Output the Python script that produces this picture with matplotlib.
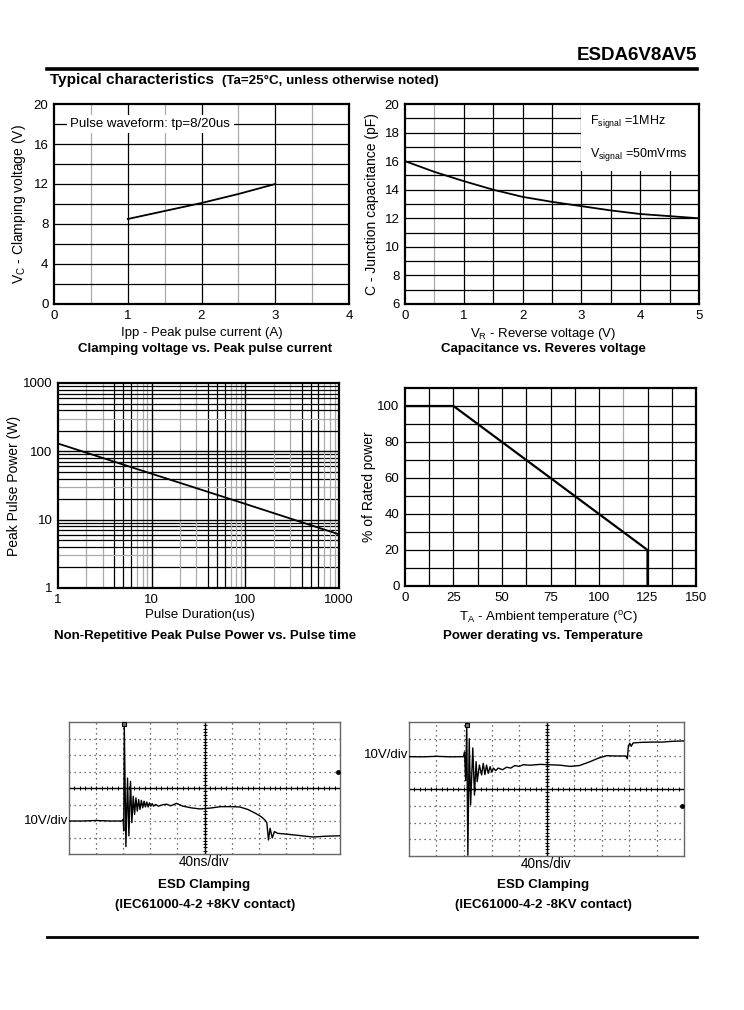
import numpy as np
import matplotlib
matplotlib.use('Agg')
import matplotlib.pyplot as plt
from matplotlib.patches import Rectangle
from matplotlib.lines import Line2D

plt.rcParams['font.family'] = ['Liberation Sans', 'DejaVu Sans']
plt.rcParams['mathtext.fontset'] = 'custom'
plt.rcParams['mathtext.rm'] = 'Liberation Sans'
plt.rcParams['mathtext.it'] = 'Liberation Sans:italic'
plt.rcParams['mathtext.bf'] = 'Liberation Sans:bold'

W, H = 744, 1010
FS = 9.5

# clamping voltage vs peak pulse current
ipp = [1.0, 1.5, 2.0, 2.5, 3.0]
vc = [8.5, 9.3, 10.1, 11.0, 12.0]

# capacitance vs reverse voltage
vr = [0, 0.5, 1.0, 1.5, 2.0, 2.5, 3.0, 3.5, 4.0, 4.5, 5.0]
cap = [16.0, 15.25, 14.6, 14.0, 13.5, 13.15, 12.85, 12.55, 12.3, 12.15, 12.0]

# peak pulse power vs pulse duration
tp = [1, 10, 100, 1000]
ppk = [130, 47, 17, 6.1]

# power derating
ta = [0, 25, 125, 125]
derate = [100, 100, 20, 0]

# ESD clamping traces, in scope divisions (x: 40ns/div, y: 10V/div)
pos_t = [0, 0.5, 1.0, 1.5, 1.95, 2.0, 2.02, 2.04, 2.10, 2.16, 2.21, 2.27, 2.32, 2.37,
         2.42, 2.47, 2.52, 2.57, 2.62, 2.67, 2.72, 2.77, 2.82, 2.87, 2.92, 2.97, 3.02,
         3.07, 3.12, 3.2, 3.3, 3.45, 3.6, 3.75, 3.97, 4.2, 4.5, 4.83, 5.2, 5.6, 6.0,
         6.3, 6.6, 6.9, 7.1, 7.23, 7.3, 7.36, 7.42, 7.5, 7.58, 7.7, 8.0, 8.5, 9.0,
         9.5, 9.9, 10.0]
pos_v = [2.0, 2.0, 2.03, 2.0, 2.0, 2.1, 1.4, 7.85, 0.45, 4.6, 1.1, 4.4, 1.9, 3.5,
         2.4, 3.4, 2.6, 3.3, 2.7, 3.25, 2.8, 3.2, 2.85, 3.15, 2.85, 3.1, 2.9,
         3.05, 2.9, 3.0, 2.9, 2.98, 3.02, 2.92, 3.07, 2.9, 2.8, 2.73, 2.78, 2.87, 2.87,
         2.85, 2.7, 2.45, 2.25, 2.06, 1.9, 0.85, 1.56, 0.97, 1.36, 1.25, 1.21, 1.12, 1.03,
         1.08, 1.1, 1.1]
pos_trig = 5.0

neg_t = [0, 0.5, 1.0, 1.5, 1.98, 2.02, 2.06, 2.10, 2.14, 2.19, 2.24, 2.32, 2.38, 2.44,
         2.48, 2.56, 2.64, 2.70, 2.76, 2.82, 2.88, 2.95, 3.01, 3.07, 3.15, 3.25, 3.4,
         3.55, 3.7, 3.85, 4.0, 4.16, 4.4, 4.76, 5.1, 5.5, 5.85, 6.2, 6.58, 6.9, 7.19,
         7.5, 7.89, 7.94, 7.98, 8.03, 8.08, 8.15, 8.4, 8.8, 9.2, 9.6, 10.0]
neg_v = [5.93, 5.92, 5.95, 5.92, 5.93, 6.2, 4.5, 7.82, 0.05, 7.0, 3.04, 6.45, 3.64, 5.63,
         4.44, 5.43, 4.84, 5.53, 4.86, 5.43, 4.94, 5.33, 5.0, 5.25, 5.1, 5.25, 5.15,
         5.3, 5.25, 5.4, 5.35, 5.45, 5.42, 5.47, 5.45, 5.42, 5.35, 5.4, 5.63, 5.85, 5.99,
         5.97, 5.97, 5.8, 6.59, 6.73, 6.55, 6.75, 6.78, 6.8, 6.8, 6.85, 6.87]
neg_trig = 3.0

fig = plt.figure(figsize=(W / 100, H / 100), dpi=100)


def box(l, t, r, b):
    return fig.add_axes([l / W, 1 - b / H, (r - l) / W, (b - t) / H])


def ftext(x, y, s, **kw):
    kw.setdefault('va', 'center')
    fig.text(x / W, 1 - y / H, s, **kw)


def style(ax):
    ax.tick_params(length=0, pad=4, labelsize=FS)
    for sp in ax.spines.values():
        sp.set_linewidth(1.6)
        sp.set_zorder(5)


# header
ftext(697, 56, 'ESDA6V8AV5', ha='right', fontsize=13.5, fontweight='bold')
fig.add_artist(Line2D([47 / W, 697 / W], [1 - 69 / H] * 2, lw=2.6, color='k'))
fig.add_artist(Line2D([47 / W, 697 / W], [1 - 937 / H] * 2, lw=2.0, color='k'))
ftext(50, 80, 'Typical characteristics', ha='left', fontsize=11, fontweight='bold')
ftext(222, 81, '(Ta=25°C, unless otherwise noted)', ha='left', fontsize=9.6, fontweight='bold')

# chart 1
ax1 = box(54, 104, 349, 304)
ax1.set_xlim(0, 4)
ax1.set_ylim(0, 20)
ax1.set_xticks([0, 1, 2, 3, 4])
ax1.set_yticks([0, 4, 8, 12, 16, 20])
for x in [0.5, 1.5, 2.5, 3.5]:
    ax1.axvline(x, color='#aaaaaa', lw=0.9)
for x in [1, 2, 3]:
    ax1.axvline(x, color='k', lw=0.9)
for y in range(2, 20, 2):
    ax1.axhline(y, color='k', lw=0.9)
ax1.text(0.22, 18, 'Pulse waveform: tp=8/20us', fontsize=FS, va='center', zorder=4,
         bbox=dict(facecolor='white', edgecolor='none', pad=2.5))
ax1.plot(ipp, vc, color='k', lw=1.3, zorder=6)
style(ax1)
ax1.set_ylabel(r'V$_{\rm C}$ - Clamping voltage (V)', fontsize=10, labelpad=4)
ftext(202, 333, 'Ipp - Peak pulse current (A)', ha='center', fontsize=FS)
ftext(205, 349, 'Clamping voltage vs. Peak pulse current', ha='center', fontsize=FS,
      fontweight='bold')

# chart 2
ax2 = box(405, 104, 699, 304)
ax2.set_xlim(0, 5)
ax2.set_ylim(6, 20)
ax2.set_xticks([0, 1, 2, 3, 4, 5])
ax2.set_yticks(range(6, 21, 2))
ax2.axvline(0.5, color='#aaaaaa', lw=0.9)
for x in [1, 1.5, 2, 2.5, 3, 3.5, 4, 4.5]:
    ax2.axvline(x, color='k', lw=0.9)
for y in range(7, 20):
    ax2.axhline(y, color='k', lw=0.9)
ax2.add_patch(Rectangle((3.0, 15.3), 2.0, 4.7, facecolor='white', edgecolor='none', zorder=3))
ax2.text(3.15, 18.75, r'F$_{\rm signal}$ =1MHz', fontsize=9, va='center', zorder=4)
ax2.text(3.15, 16.45, r'V$_{\rm signal}$ =50mVrms', fontsize=9, va='center', zorder=4)
ax2.plot(vr, cap, color='k', lw=1.3, zorder=6)
style(ax2)
ax2.set_ylabel('C - Junction capacitance (pF)', fontsize=10, labelpad=4)
ftext(543, 334, r'V$_{\rm R}$ - Reverse voltage (V)', ha='center', fontsize=FS)
ftext(543, 349, 'Capacitance vs. Reveres voltage', ha='center', fontsize=FS,
      fontweight='bold')

# chart 3
ax3 = box(58, 383, 339, 588)
ax3.set_xscale('log')
ax3.set_yscale('log')
ax3.set_xlim(1, 1000)
ax3.set_ylim(1, 1000)
ax3.set_xticks([1, 10, 100, 1000])
ax3.set_xticklabels(['1', '10', '100', '1000'])
ax3.set_yticks([1, 10, 100, 1000])
ax3.set_yticklabels(['1', '10', '100', '1000'])
ax3.minorticks_off()
xcol = ['#aaaaaa', '#aaaaaa', 'k', 'k', 'k', '#aaaaaa', '#aaaaaa', '#aaaaaa']
ycol = ['k', '#aaaaaa', 'k', 'k', 'k', 'k', 'k', 'k']
for dec in [1, 10, 100]:
    for m, c in zip(range(2, 10), xcol):
        ax3.axvline(dec * m, color=c, lw=0.9)
    for m, c in zip(range(2, 10), ycol):
        ax3.axhline(dec * m, color=c, lw=0.9)
for dec in [10, 100]:
    ax3.axvline(dec, color='k', lw=1.0)
    ax3.axhline(dec, color='k', lw=1.0)
ax3.plot(tp, ppk, color='k', lw=1.3, zorder=6)
style(ax3)
ax3.set_ylabel('Peak Pulse Power (W)', fontsize=10, labelpad=1)
ftext(200, 615, 'Pulse Duration(us)', ha='center', fontsize=FS)
ftext(205, 636, 'Non-Repetitive Peak Pulse Power vs. Pulse time', ha='center',
      fontsize=FS, fontweight='bold')

# chart 4
ax4 = box(405, 388, 696, 586)
ax4.set_xlim(0, 150)
ax4.set_ylim(0, 110)
ax4.set_xticks(range(0, 151, 25))
ax4.set_yticks(range(0, 101, 20))
for x in np.arange(12.5, 150, 12.5):
    ax4.axvline(x, color='#aaaaaa' if x == 112.5 else 'k', lw=0.9)
for y in range(10, 110, 10):
    ax4.axhline(y, color='k', lw=0.9)
ax4.plot(ta, derate, color='k', lw=1.6, zorder=6)
style(ax4)
ax4.set_ylabel('% of Rated power', fontsize=10, labelpad=1)
ftext(549, 618, r'T$_{\rm A}$ - Ambient temperature ($^{\rm o}$C)', ha='center', fontsize=FS)
ftext(543, 636, 'Power derating vs. Temperature', ha='center', fontsize=FS,
      fontweight='bold')


def scope(ax, t, v, trig):
    ax.set_xlim(0, 10)
    ax.set_ylim(0, 8)
    ax.set_xticks([])
    ax.set_yticks([])
    for i in range(1, 10):
        ax.axvline(i, color='#444444', lw=0.9, ls=(0, (1, 3)))
    for j in range(1, 8):
        ax.axhline(j, color='#444444', lw=0.9, ls=(0, (1, 3)))
    ax.axvline(5, color='k', lw=1.0)
    ax.axhline(4, color='k', lw=1.0)
    tk = np.arange(0.2, 10, 0.2)
    ax.plot(tk, np.full_like(tk, 4), ls='none', marker='|', ms=3, mew=0.7, color='k')
    tk2 = np.arange(0.2, 8, 0.2)
    ax.plot(np.full_like(tk2, 5), tk2, ls='none', marker='_', ms=3, mew=0.7, color='k')
    ax.plot(t, v, color='k', lw=1.0, zorder=4)
    k = int(np.argmax(v))
    ax.plot(t[k], v[k], marker='s', ms=3.5, mfc='#777777', mec='k', mew=0.8, zorder=5,
            clip_on=False)
    ax.plot(9.93, trig, marker='o', ms=2.5, color='k', zorder=5)
    for sp in ax.spines.values():
        sp.set_color('#666666')
        sp.set_linewidth(1.0)


axL = box(69, 722, 340, 854)
scope(axL, pos_t, pos_v, pos_trig)
ftext(68, 821, '10V/div', ha='right', fontsize=FS)
ftext(204, 862, '40ns/div', ha='center', fontsize=9.8)
ftext(204, 885, 'ESD Clamping', ha='center', fontsize=9.6, fontweight='bold')
ftext(205, 905, '(IEC61000-4-2 +8KV contact)', ha='center', fontsize=9.6, fontweight='bold')

axR = box(409, 722, 684, 856)
scope(axR, neg_t, neg_v, neg_trig)
ftext(408, 755, '10V/div', ha='right', fontsize=FS)
ftext(546, 864, '40ns/div', ha='center', fontsize=9.8)
ftext(543, 885, 'ESD Clamping', ha='center', fontsize=9.6, fontweight='bold')
ftext(543, 905, '(IEC61000-4-2 -8KV contact)', ha='center', fontsize=9.6, fontweight='bold')

fig.savefig('out.png', dpi=100)
